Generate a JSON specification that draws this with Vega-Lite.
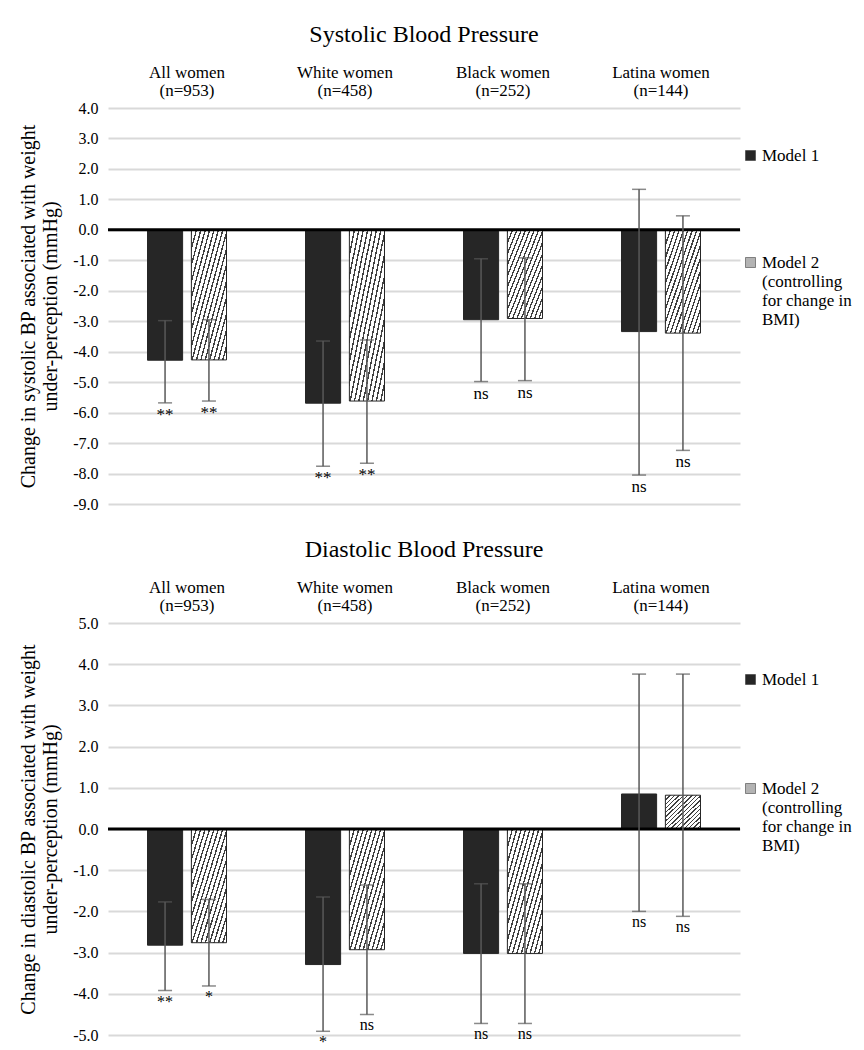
{
  "$schema": "https://vega.github.io/schema/vega-lite/v6.json",
  "background": "white",
  "padding": {"left": 18, "top": 23, "right": 5, "bottom": 5},
  "config": {
    "font": "Liberation Serif",
    "view": {"stroke": null},
    "title": {"fontSize": 24, "fontWeight": "normal", "color": "black", "offset": 16},
    "axis": {"labelFont": "Liberation Serif", "titleFont": "Liberation Serif"},
    "legend": {"labelFont": "Liberation Serif"}
  },
  "datasets": {
    "sys": [
      {"group": "All women|(n=953)", "model": "Model 1", "value": -4.28, "hi": -2.98, "lo": -5.68, "sig": "**"},
      {"group": "All women|(n=953)", "model": "Model 2", "value": -4.27, "hi": -2.95, "lo": -5.62, "sig": "**"},
      {"group": "White women|(n=458)", "model": "Model 1", "value": -5.69, "hi": -3.65, "lo": -7.76, "sig": "**"},
      {"group": "White women|(n=458)", "model": "Model 2", "value": -5.62, "hi": -3.62, "lo": -7.66, "sig": "**"},
      {"group": "Black women|(n=252)", "model": "Model 1", "value": -2.95, "hi": -0.95, "lo": -4.98, "sig": "ns"},
      {"group": "Black women|(n=252)", "model": "Model 2", "value": -2.91, "hi": -0.92, "lo": -4.95, "sig": "ns"},
      {"group": "Latina women|(n=144)", "model": "Model 1", "value": -3.34, "hi": 1.33, "lo": -8.05, "sig": "ns"},
      {"group": "Latina women|(n=144)", "model": "Model 2", "value": -3.39, "hi": 0.46, "lo": -7.24, "sig": "ns"}
    ],
    "dia": [
      {"group": "All women|(n=953)", "model": "Model 1", "value": -2.82, "hi": -1.77, "lo": -3.92, "sig": "**"},
      {"group": "All women|(n=953)", "model": "Model 2", "value": -2.76, "hi": -1.71, "lo": -3.81, "sig": "*"},
      {"group": "White women|(n=458)", "model": "Model 1", "value": -3.29, "hi": -1.65, "lo": -4.91, "sig": "*"},
      {"group": "White women|(n=458)", "model": "Model 2", "value": -2.93, "hi": -1.36, "lo": -4.5, "sig": "ns"},
      {"group": "Black women|(n=252)", "model": "Model 1", "value": -3.02, "hi": -1.33, "lo": -4.72, "sig": "ns"},
      {"group": "Black women|(n=252)", "model": "Model 2", "value": -3.02, "hi": -1.33, "lo": -4.72, "sig": "ns"},
      {"group": "Latina women|(n=144)", "model": "Model 1", "value": 0.85, "hi": 3.76, "lo": -2.0, "sig": "ns"},
      {"group": "Latina women|(n=144)", "model": "Model 2", "value": 0.82, "hi": 3.76, "lo": -2.12, "sig": "ns"}
    ]
  },
  "resolve": {"scale": {"fill": "independent"}, "legend": {"fill": "independent"}},
  "spacing": 26,
  "vconcat": [
    {
      "width": 632,
      "height": 396,
      "title": {"text": "Systolic Blood Pressure"},
      "data": {"name": "sys"},
      "layer": [
        {
          "mark": {"type": "bar", "stroke": "#262626", "strokeWidth": 1},
          "encoding": {
            "x": {"field": "group", "type": "nominal", "sort": null, "scale": {"paddingInner": 0.5, "paddingOuter": 0.25},
              "axis": {"orient": "top", "title": null, "labelExpr": "split(datum.label, '|')", "labelAngle": 0, "domain": false, "ticks": false, "labelFontSize": 17, "labelColor": "black", "labelPadding": 27, "labelLineHeight": 18}},
            "xOffset": {"field": "model", "type": "nominal", "scale": {"paddingInner": 0.2}},
            "y": {"field": "value", "type": "quantitative", "scale": {"domain": [-9, 4], "nice": false, "zero": false},
              "axis": {"title": ["Change in systolic BP associated with weight", "under-perception (mmHg)"], "titleFontSize": 20, "titleFontWeight": "normal", "titleColor": "black", "titleLineHeight": 22, "titlePadding": 12,
                "values": [-9, -8, -7, -6, -5, -4, -3, -2, -1, 0, 1, 2, 3, 4], "tickCount": 20, "labelExpr": "replace(format(datum.value, '.1f'), '\u2212', '-')", "labelOverlap": false, "labelFontSize": 16, "labelColor": "black", "labelPadding": 10,
                "domain": false, "ticks": false, "grid": true, "gridColor": "#d9d9d9", "gridWidth": 2}},
            "fill": {"field": "model", "type": "nominal",
              "condition": {"test": "datum.model == 'Model 2'", "value": {"gradient": "linear", "x1": 0, "y1": 0, "x2": 1, "y2": 1, "stops": [
                {"offset": 0, "color": "#404040"}, {"offset": 0.02, "color": "#404040"}, {"offset": 0.02, "color": "white"}, {"offset": 0.0625, "color": "white"},
                {"offset": 0.0625, "color": "#404040"}, {"offset": 0.0825, "color": "#404040"}, {"offset": 0.0825, "color": "white"}, {"offset": 0.125, "color": "white"},
                {"offset": 0.125, "color": "#404040"}, {"offset": 0.145, "color": "#404040"}, {"offset": 0.145, "color": "white"}, {"offset": 0.1875, "color": "white"},
                {"offset": 0.1875, "color": "#404040"}, {"offset": 0.2075, "color": "#404040"}, {"offset": 0.2075, "color": "white"}, {"offset": 0.25, "color": "white"},
                {"offset": 0.25, "color": "#404040"}, {"offset": 0.27, "color": "#404040"}, {"offset": 0.27, "color": "white"}, {"offset": 0.3125, "color": "white"},
                {"offset": 0.3125, "color": "#404040"}, {"offset": 0.3325, "color": "#404040"}, {"offset": 0.3325, "color": "white"}, {"offset": 0.375, "color": "white"},
                {"offset": 0.375, "color": "#404040"}, {"offset": 0.395, "color": "#404040"}, {"offset": 0.395, "color": "white"}, {"offset": 0.4375, "color": "white"},
                {"offset": 0.4375, "color": "#404040"}, {"offset": 0.4575, "color": "#404040"}, {"offset": 0.4575, "color": "white"}, {"offset": 0.5, "color": "white"},
                {"offset": 0.5, "color": "#404040"}, {"offset": 0.52, "color": "#404040"}, {"offset": 0.52, "color": "white"}, {"offset": 0.5625, "color": "white"},
                {"offset": 0.5625, "color": "#404040"}, {"offset": 0.5825, "color": "#404040"}, {"offset": 0.5825, "color": "white"}, {"offset": 0.625, "color": "white"},
                {"offset": 0.625, "color": "#404040"}, {"offset": 0.645, "color": "#404040"}, {"offset": 0.645, "color": "white"}, {"offset": 0.6875, "color": "white"},
                {"offset": 0.6875, "color": "#404040"}, {"offset": 0.7075, "color": "#404040"}, {"offset": 0.7075, "color": "white"}, {"offset": 0.75, "color": "white"},
                {"offset": 0.75, "color": "#404040"}, {"offset": 0.77, "color": "#404040"}, {"offset": 0.77, "color": "white"}, {"offset": 0.8125, "color": "white"},
                {"offset": 0.8125, "color": "#404040"}, {"offset": 0.8325, "color": "#404040"}, {"offset": 0.8325, "color": "white"}, {"offset": 0.875, "color": "white"},
                {"offset": 0.875, "color": "#404040"}, {"offset": 0.895, "color": "#404040"}, {"offset": 0.895, "color": "white"}, {"offset": 0.9375, "color": "white"},
                {"offset": 0.9375, "color": "#404040"}, {"offset": 0.9575, "color": "#404040"}, {"offset": 0.9575, "color": "white"}, {"offset": 1, "color": "white"}
              ]}},
              "scale": {"domain": ["Model 1", "Model 2"], "range": ["#262626", "#b3b3b3"]},
              "legend": {"title": null, "orient": "none", "legendX": 634, "legendY": 39, "symbolType": "square", "symbolSize": 100, "symbolStrokeColor": "#262626", "symbolStrokeWidth": 0.5,
                "labelFontSize": 17, "labelColor": "black", "labelOffset": 3, "labelLimit": 200, "rowPadding": 89, "labelBaseline": "middle",
                "labelExpr": "datum.label == 'Model 2' ? ['Model 2', '(controlling', 'for change in', 'BMI)'] : datum.label"}}
          }
        },
        {
          "data": {"values": [{}]},
          "mark": {"type": "rule", "color": "black", "strokeWidth": 3},
          "encoding": {"y": {"datum": 0}}
        },
        {
          "mark": {"type": "rule", "color": "#595959", "strokeWidth": 1.5},
          "encoding": {
            "x": {"field": "group", "type": "nominal", "sort": null},
            "xOffset": {"field": "model", "type": "nominal"},
            "y": {"field": "lo", "type": "quantitative"},
            "y2": {"field": "hi"}
          }
        },
        {
          "mark": {"type": "tick", "color": "#595959", "thickness": 1.5, "size": 14},
          "encoding": {
            "x": {"field": "group", "type": "nominal", "sort": null},
            "xOffset": {"field": "model", "type": "nominal"},
            "y": {"field": "lo", "type": "quantitative"}
          }
        },
        {
          "mark": {"type": "tick", "color": "#595959", "thickness": 1.5, "size": 14},
          "encoding": {
            "x": {"field": "group", "type": "nominal", "sort": null},
            "xOffset": {"field": "model", "type": "nominal"},
            "y": {"field": "hi", "type": "quantitative"}
          }
        },
        {
          "mark": {"type": "text", "baseline": "top", "dy": 4, "fontSize": 17, "color": "black"},
          "encoding": {
            "x": {"field": "group", "type": "nominal", "sort": null},
            "xOffset": {"field": "model", "type": "nominal"},
            "y": {"field": "lo", "type": "quantitative"},
            "text": {"field": "sig"}
          }
        }
      ]
    },
    {
      "width": 632,
      "height": 412,
      "title": {"text": "Diastolic Blood Pressure"},
      "data": {"name": "dia"},
      "layer": [
        {
          "mark": {"type": "bar", "stroke": "#262626", "strokeWidth": 1},
          "encoding": {
            "x": {"field": "group", "type": "nominal", "sort": null, "scale": {"paddingInner": 0.5, "paddingOuter": 0.25},
              "axis": {"orient": "top", "title": null, "labelExpr": "split(datum.label, '|')", "labelAngle": 0, "domain": false, "ticks": false, "labelFontSize": 17, "labelColor": "black", "labelPadding": 27, "labelLineHeight": 18}},
            "xOffset": {"field": "model", "type": "nominal", "scale": {"paddingInner": 0.2}},
            "y": {"field": "value", "type": "quantitative", "scale": {"domain": [-5, 5], "nice": false, "zero": false},
              "axis": {"title": ["Change in diastolic BP associated with weight", "under-perception  (mmHg)"], "titleFontSize": 20, "titleFontWeight": "normal", "titleColor": "black", "titleLineHeight": 22, "titlePadding": 12,
                "values": [-5, -4, -3, -2, -1, 0, 1, 2, 3, 4, 5], "tickCount": 20, "labelExpr": "replace(format(datum.value, '.1f'), '\u2212', '-')", "labelOverlap": false, "labelFontSize": 16, "labelColor": "black", "labelPadding": 10,
                "domain": false, "ticks": false, "grid": true, "gridColor": "#d9d9d9", "gridWidth": 2}},
            "fill": {"field": "model", "type": "nominal",
              "condition": {"test": "datum.model == 'Model 2'", "value": {"gradient": "linear", "x1": 0, "y1": 0, "x2": 1, "y2": 1, "stops": [
                {"offset": 0, "color": "#404040"}, {"offset": 0.02, "color": "#404040"}, {"offset": 0.02, "color": "white"}, {"offset": 0.0625, "color": "white"},
                {"offset": 0.0625, "color": "#404040"}, {"offset": 0.0825, "color": "#404040"}, {"offset": 0.0825, "color": "white"}, {"offset": 0.125, "color": "white"},
                {"offset": 0.125, "color": "#404040"}, {"offset": 0.145, "color": "#404040"}, {"offset": 0.145, "color": "white"}, {"offset": 0.1875, "color": "white"},
                {"offset": 0.1875, "color": "#404040"}, {"offset": 0.2075, "color": "#404040"}, {"offset": 0.2075, "color": "white"}, {"offset": 0.25, "color": "white"},
                {"offset": 0.25, "color": "#404040"}, {"offset": 0.27, "color": "#404040"}, {"offset": 0.27, "color": "white"}, {"offset": 0.3125, "color": "white"},
                {"offset": 0.3125, "color": "#404040"}, {"offset": 0.3325, "color": "#404040"}, {"offset": 0.3325, "color": "white"}, {"offset": 0.375, "color": "white"},
                {"offset": 0.375, "color": "#404040"}, {"offset": 0.395, "color": "#404040"}, {"offset": 0.395, "color": "white"}, {"offset": 0.4375, "color": "white"},
                {"offset": 0.4375, "color": "#404040"}, {"offset": 0.4575, "color": "#404040"}, {"offset": 0.4575, "color": "white"}, {"offset": 0.5, "color": "white"},
                {"offset": 0.5, "color": "#404040"}, {"offset": 0.52, "color": "#404040"}, {"offset": 0.52, "color": "white"}, {"offset": 0.5625, "color": "white"},
                {"offset": 0.5625, "color": "#404040"}, {"offset": 0.5825, "color": "#404040"}, {"offset": 0.5825, "color": "white"}, {"offset": 0.625, "color": "white"},
                {"offset": 0.625, "color": "#404040"}, {"offset": 0.645, "color": "#404040"}, {"offset": 0.645, "color": "white"}, {"offset": 0.6875, "color": "white"},
                {"offset": 0.6875, "color": "#404040"}, {"offset": 0.7075, "color": "#404040"}, {"offset": 0.7075, "color": "white"}, {"offset": 0.75, "color": "white"},
                {"offset": 0.75, "color": "#404040"}, {"offset": 0.77, "color": "#404040"}, {"offset": 0.77, "color": "white"}, {"offset": 0.8125, "color": "white"},
                {"offset": 0.8125, "color": "#404040"}, {"offset": 0.8325, "color": "#404040"}, {"offset": 0.8325, "color": "white"}, {"offset": 0.875, "color": "white"},
                {"offset": 0.875, "color": "#404040"}, {"offset": 0.895, "color": "#404040"}, {"offset": 0.895, "color": "white"}, {"offset": 0.9375, "color": "white"},
                {"offset": 0.9375, "color": "#404040"}, {"offset": 0.9575, "color": "#404040"}, {"offset": 0.9575, "color": "white"}, {"offset": 1, "color": "white"}
              ]}},
              "scale": {"domain": ["Model 1", "Model 2"], "range": ["#262626", "#b3b3b3"]},
              "legend": {"title": null, "orient": "none", "legendX": 634, "legendY": 48, "symbolType": "square", "symbolSize": 100, "symbolStrokeColor": "#262626", "symbolStrokeWidth": 0.5,
                "labelFontSize": 17, "labelColor": "black", "labelOffset": 3, "labelLimit": 200, "rowPadding": 91, "labelBaseline": "middle",
                "labelExpr": "datum.label == 'Model 2' ? ['Model 2', '(controlling', 'for change in', 'BMI)'] : datum.label"}}
          }
        },
        {
          "data": {"values": [{}]},
          "mark": {"type": "rule", "color": "black", "strokeWidth": 3},
          "encoding": {"y": {"datum": 0}}
        },
        {
          "mark": {"type": "rule", "color": "#595959", "strokeWidth": 1.5},
          "encoding": {
            "x": {"field": "group", "type": "nominal", "sort": null},
            "xOffset": {"field": "model", "type": "nominal"},
            "y": {"field": "lo", "type": "quantitative"},
            "y2": {"field": "hi"}
          }
        },
        {
          "mark": {"type": "tick", "color": "#595959", "thickness": 1.5, "size": 14},
          "encoding": {
            "x": {"field": "group", "type": "nominal", "sort": null},
            "xOffset": {"field": "model", "type": "nominal"},
            "y": {"field": "lo", "type": "quantitative"}
          }
        },
        {
          "mark": {"type": "tick", "color": "#595959", "thickness": 1.5, "size": 14},
          "encoding": {
            "x": {"field": "group", "type": "nominal", "sort": null},
            "xOffset": {"field": "model", "type": "nominal"},
            "y": {"field": "hi", "type": "quantitative"}
          }
        },
        {
          "mark": {"type": "text", "baseline": "top", "dy": 3, "fontSize": 16, "color": "black"},
          "encoding": {
            "x": {"field": "group", "type": "nominal", "sort": null},
            "xOffset": {"field": "model", "type": "nominal"},
            "y": {"field": "lo", "type": "quantitative"},
            "text": {"field": "sig"}
          }
        }
      ]
    }
  ]
}
